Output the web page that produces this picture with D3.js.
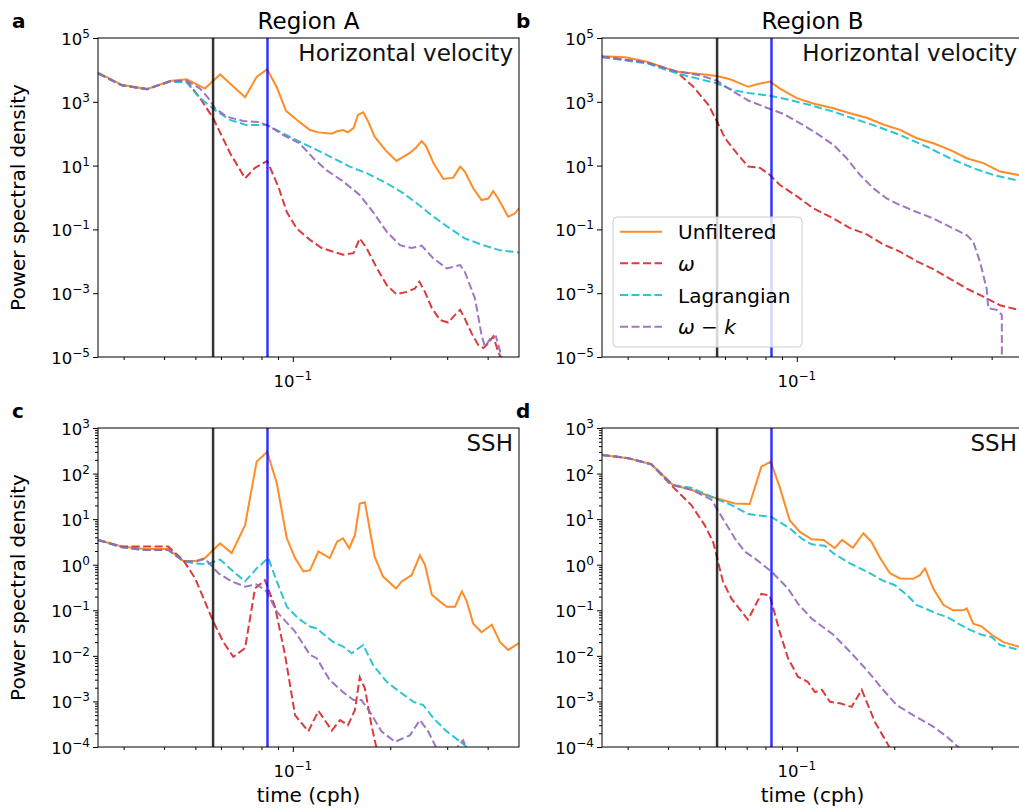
<!DOCTYPE html>
<html>
<head>
<meta charset="utf-8">
<script src="https://cdn.jsdelivr.net/npm/d3@7"></script>
<style>
body { margin: 0; background: #fff; }
svg { font-family: "DejaVu Sans", sans-serif; }
</style>
</head>
<body>
<svg id="fig" width="1019" height="810"></svg>
<script>
// frequency axis (cph) and marker lines
var freqDomain = [0.025, 0.5];
var inertialFreq = 0.0567;
var tideFreq = 0.0835;
var xMinorTicks = [0.03, 0.04, 0.05, 0.06, 0.07, 0.08, 0.09, 0.2, 0.3, 0.4];

// tick exponents
var velocityTicks = [5, 3, 1, -1, -3, -5];
var sshTicks = [3, 2, 1, 0, -1, -2, -3, -4];

var seriesNames = ["Unfiltered", "\u03c9", "Lagrangian", "\u03c9\u2212k"];

// Region A, horizontal velocity  [freq, psd]
var aUnfiltered = [[0.025,8.2e3],[0.0296,3.4e3],[0.0354,2.5e3],[0.0417,4.5e3],[0.047,5.1e3],[0.0535,2.6e3],[0.0596,7.2e3],[0.0712,1.4e3],[0.0773,6.0e3],[0.0833,1.05e4],[0.0893,2.8e3],[0.0953,520],[0.105,230],[0.113,130],[0.12,110],[0.132,100],[0.137,120],[0.143,130],[0.148,110],[0.154,150],[0.159,390],[0.165,470],[0.171,240],[0.179,81],[0.193,31],[0.209,14],[0.22,19],[0.23,25],[0.24,36],[0.25,59],[0.258,41],[0.272,12],[0.292,3.8],[0.313,4.2],[0.329,9.3],[0.34,6.5],[0.361,1.95],[0.383,0.83],[0.402,0.93],[0.416,1.6],[0.431,0.93],[0.463,0.25],[0.486,0.32],[0.5,0.46]];
var aOmega = [[0.025,7.8e3],[0.0296,3.3e3],[0.0354,2.5e3],[0.0417,4.3e3],[0.047,4.4e3],[0.0517,1.3e3],[0.0568,300],[0.064,24.5],[0.0712,4.0],[0.0764,8.5],[0.0833,14],[0.0902,2.2],[0.0958,0.35],[0.1028,0.107],[0.113,0.047],[0.1228,0.026],[0.1334,0.020],[0.143,0.016],[0.154,0.018],[0.161,0.052],[0.169,0.026],[0.182,6.0e-3],[0.195,1.8e-3],[0.209,9.3e-4],[0.225,1.1e-3],[0.2385,1.4e-3],[0.246,2.3e-3],[0.256,1.1e-3],[0.269,3.4e-4],[0.285,1.45e-4],[0.302,1.2e-4],[0.317,2.1e-4],[0.329,3.0e-4],[0.34,1.6e-4],[0.357,5.5e-5],[0.374,2.4e-5],[0.388,1.9e-5],[0.402,2.7e-5],[0.416,4.4e-5],[0.431,1.5e-5],[0.449,5.6e-6]];
var aLagrangian = [[0.025,7.8e3],[0.0296,3.3e3],[0.0354,2.5e3],[0.0417,4.3e3],[0.047,4.0e3],[0.0517,1.3e3],[0.0575,550],[0.064,270],[0.072,186],[0.0833,186],[0.0934,102],[0.105,56],[0.1185,31],[0.1334,17],[0.15,9.3],[0.169,5.8],[0.195,2.8],[0.22,1.35],[0.2415,0.66],[0.272,0.25],[0.306,0.107],[0.34,0.052],[0.388,0.032],[0.437,0.022],[0.5,0.019]];
var aOmegaK = [[0.025,7.8e3],[0.0296,3.3e3],[0.0354,2.5e3],[0.0417,4.4e3],[0.047,4.6e3],[0.0517,2.6e3],[0.0548,1.3e3],[0.0575,630],[0.0625,340],[0.0703,250],[0.0792,230],[0.085,166],[0.0934,91],[0.105,50],[0.1157,17],[0.127,7.2],[0.143,3.2],[0.161,1.2],[0.177,0.35],[0.195,0.085],[0.2145,0.032],[0.233,0.026],[0.25,0.031],[0.272,0.0123],[0.299,6.0e-3],[0.329,7.6e-3],[0.34,4.7e-3],[0.3655,6.9e-4],[0.383,4.9e-5],[0.3925,2.1e-5],[0.412,4.4e-5],[0.4245,4.4e-5],[0.437,1.5e-5],[0.449,5.6e-6]];

// Region B, horizontal velocity
var bUnfiltered = [[0.025,2.7e4],[0.0295,2.5e4],[0.0344,1.8e4],[0.0426,8.7e3],[0.0502,7.4e3],[0.0566,6.4e3],[0.0622,5.1e3],[0.0708,2.95e3],[0.076,3.6e3],[0.0826,4.3e3],[0.0887,2.6e3],[0.0999,1.3e3],[0.1124,890],[0.1297,630],[0.146,440],[0.1644,316],[0.185,195],[0.2084,132],[0.2347,72],[0.264,50],[0.2975,31],[0.335,17],[0.377,12],[0.4245,6.5],[0.4835,5.1],[0.5,4.5]];
var bOmega = [[0.025,2.6e4],[0.0344,1.7e4],[0.0426,8.5e3],[0.0479,2.95e3],[0.0533,800],[0.0566,250],[0.06,72],[0.0652,24.5],[0.0708,9.3],[0.077,8.5],[0.0826,5.1],[0.0887,2.45],[0.0999,1.1],[0.1124,0.46],[0.1297,0.22],[0.146,0.11],[0.1644,0.07],[0.185,0.034],[0.2084,0.020],[0.2347,0.010],[0.264,5.7e-3],[0.2975,2.8e-3],[0.335,1.4e-3],[0.377,7.8e-4],[0.4245,4.2e-4],[0.4835,3.0e-4],[0.5,2.8e-4]];
var bLagrangian = [[0.025,2.5e4],[0.0344,1.6e4],[0.0426,7.8e3],[0.0502,5.1e3],[0.0566,3.8e3],[0.0636,2.3e3],[0.0708,1.9e3],[0.0826,1.55e3],[0.093,1.2e3],[0.1098,790],[0.1297,490],[0.1494,300],[0.1723,186],[0.2084,91],[0.252,39],[0.2975,17],[0.351,8.3],[0.405,5.1],[0.4835,3.4],[0.5,3.2]];
var bOmegaK = [[0.025,2.6e4],[0.0344,1.7e4],[0.0426,9.0e3],[0.0502,6.8e3],[0.0566,4.6e3],[0.0636,2.1e3],[0.0708,1.1e3],[0.0807,650],[0.0908,420],[0.1047,186],[0.1152,102],[0.1297,45],[0.1426,17],[0.1568,5.1],[0.1723,1.95],[0.1895,0.93],[0.2084,0.58],[0.2347,0.35],[0.264,0.22],[0.2975,0.12],[0.335,0.066],[0.351,0.041],[0.368,9.8e-3],[0.386,1.4e-3],[0.3905,3.4e-4],[0.415,3.0e-4],[0.43,2.1e-4],[0.4305,1e-6]];

// Region A, SSH
var cUnfiltered = [[0.025,3.5],[0.0296,2.5],[0.0349,2.2],[0.0412,2.2],[0.0459,1.2],[0.0499,1.2],[0.0535,1.4],[0.0596,2.95],[0.0647,1.8],[0.0712,7.4],[0.0773,182],[0.0833,300],[0.0892,62],[0.0958,3.8],[0.1016,1.4],[0.1078,0.71],[0.113,0.76],[0.12,1.95],[0.13,1.4],[0.137,3.2],[0.143,3.8],[0.1494,2.3],[0.1556,4.5],[0.161,22],[0.167,23.5],[0.179,1.5],[0.19,0.55],[0.2084,0.30],[0.217,0.43],[0.233,0.59],[0.247,1.6],[0.256,1.0],[0.269,0.22],[0.285,0.155],[0.299,0.12],[0.317,0.12],[0.333,0.26],[0.345,0.155],[0.361,0.051],[0.383,0.033],[0.412,0.048],[0.437,0.020],[0.463,0.0135],[0.5,0.019]];
var cOmega = [[0.025,3.5],[0.0296,2.5],[0.0349,2.5],[0.0412,2.5],[0.0459,1.25],[0.0499,0.50],[0.0535,0.155],[0.0568,0.056],[0.061,0.020],[0.0655,9.5e-3],[0.0712,0.0148],[0.0764,0.30],[0.082,0.46],[0.0881,0.12],[0.0946,0.0105],[0.1016,5.0e-4],[0.1116,2.2e-4],[0.12,6.2e-4],[0.132,2.3e-4],[0.14,3.9e-4],[0.148,3.0e-4],[0.1556,6.5e-4],[0.161,3.4e-3],[0.167,1.95e-3],[0.175,3.0e-4],[0.182,8.5e-5],[0.19,4e-5]];
var cLagrangian = [[0.025,3.5],[0.0296,2.4],[0.0349,2.1],[0.0412,2.1],[0.0459,1.2],[0.0499,1.07],[0.0542,1.02],[0.0596,1.3],[0.0655,0.71],[0.0712,0.43],[0.0773,0.83],[0.084,1.4],[0.0892,0.43],[0.0958,0.12],[0.104,0.066],[0.113,0.044],[0.1185,0.040],[0.1334,0.020],[0.143,0.016],[0.152,0.0114],[0.165,0.0174],[0.177,6.3e-3],[0.195,2.7e-3],[0.2145,1.6e-3],[0.236,9.8e-4],[0.253,8.3e-4],[0.272,4.3e-4],[0.299,2.2e-4],[0.325,1.4e-4],[0.34,1.1e-4],[0.352,8e-5]];
var cOmegaK = [[0.025,3.5],[0.0296,2.4],[0.0349,2.1],[0.0412,2.1],[0.0459,1.2],[0.0499,1.17],[0.0535,1.35],[0.0589,0.65],[0.0647,0.43],[0.0712,0.33],[0.0773,0.37],[0.083,0.26],[0.0892,0.093],[0.1016,0.034],[0.113,0.0105],[0.1185,8.9e-3],[0.13,2.95e-3],[0.143,1.6e-3],[0.154,1.07e-3],[0.163,1.07e-3],[0.173,5.9e-4],[0.188,2.2e-4],[0.207,1.3e-4],[0.23,1.8e-4],[0.247,3.9e-4],[0.262,2.2e-4],[0.275,1.1e-4],[0.285,6e-5],[0.317,7e-5],[0.325,1.1e-4],[0.336,1.4e-4],[0.345,9e-5],[0.36,5e-5]];

// Region B, SSH
var dUnfiltered = [[0.025,257],[0.0301,218],[0.0355,160],[0.0414,56],[0.0472,44],[0.0544,31],[0.0643,22],[0.0715,21.5],[0.0777,142],[0.083,182],[0.0885,51],[0.095,9.5],[0.102,5.3],[0.111,3.6],[0.121,3.5],[0.131,2.3],[0.138,3.5],[0.149,2.35],[0.1605,4.9],[0.17,3.2],[0.181,1.38],[0.194,0.65],[0.2084,0.50],[0.229,0.49],[0.24,0.59],[0.249,0.83],[0.264,0.30],[0.284,0.13],[0.304,0.10],[0.327,0.10],[0.335,0.11],[0.351,0.051],[0.373,0.044],[0.4,0.029],[0.435,0.020],[0.4835,0.016],[0.5,0.015]];
var dOmega = [[0.025,257],[0.0301,218],[0.0355,160],[0.0414,51],[0.0472,20.4],[0.0519,7.4],[0.0551,3.2],[0.0591,0.43],[0.0628,0.18],[0.0706,0.062],[0.0777,0.23],[0.0825,0.21],[0.0885,0.034],[0.0939,8.9e-3],[0.1008,3.5e-3],[0.108,2.7e-3],[0.1138,1.6e-3],[0.1195,1.8e-3],[0.1266,9.8e-4],[0.136,9.1e-4],[0.1477,7.6e-4],[0.1587,1.8e-3],[0.1744,3.5e-4],[0.1917,1.1e-4],[0.2,6e-5]];
var dLagrangian = [[0.025,257],[0.0301,218],[0.0355,160],[0.0414,56],[0.0472,49],[0.0544,31],[0.0628,20.4],[0.0706,12.9],[0.0834,11.2],[0.095,6.3],[0.1032,3.8],[0.111,2.8],[0.122,2.6],[0.1297,1.78],[0.146,1.07],[0.1644,0.71],[0.183,0.46],[0.201,0.355],[0.2185,0.22],[0.2347,0.13],[0.249,0.11],[0.2705,0.085],[0.2905,0.072],[0.3155,0.051],[0.343,0.037],[0.373,0.029],[0.4,0.026],[0.4245,0.0174],[0.478,0.014],[0.5,0.013]];
var dOmegaK = [[0.025,257],[0.0301,218],[0.0355,160],[0.0414,56],[0.0472,44],[0.0544,27],[0.0643,3.8],[0.069,1.95],[0.0741,1.38],[0.0834,0.71],[0.0939,0.30],[0.1008,0.14],[0.111,0.066],[0.1297,0.029],[0.146,0.0123],[0.1644,4.9e-3],[0.183,1.95e-3],[0.2035,8.3e-4],[0.229,5.0e-4],[0.264,2.8e-4],[0.2905,1.7e-4],[0.3155,1.0e-4],[0.34,6e-5]];

var svg = d3.select("#fig");
var panelW = 421, panelH = 319;

var styles = [
    { color: "#ff7f0e", dash: null },
    { color: "#d62728", dash: "8,3.5" },
    { color: "#17becf", dash: "8,3.5" },
    { color: "#9467bd", dash: "8,3.5" }
];

var panels = [
    { letter: "a", left: 98,  top: 38,  series: [aUnfiltered, aOmega, aLagrangian, aOmegaK], yDom: [1e-5, 1e5], ticks: velocityTicks, minor: false, title: "Region A", field: "Horizontal velocity", ylab: true,  xlab: false },
    { letter: "b", left: 602, top: 38,  series: [bUnfiltered, bOmega, bLagrangian, bOmegaK], yDom: [1e-5, 1e5], ticks: velocityTicks, minor: false, title: "Region B", field: "Horizontal velocity", ylab: false, xlab: false },
    { letter: "c", left: 98,  top: 428, series: [cUnfiltered, cOmega, cLagrangian, cOmegaK], yDom: [1e-4, 1e3], ticks: sshTicks,      minor: true,  title: null,       field: "SSH",                 ylab: true,  xlab: true },
    { letter: "d", left: 602, top: 428, series: [dUnfiltered, dOmega, dLagrangian, dOmegaK], yDom: [1e-4, 1e3], ticks: sshTicks,      minor: true,  title: null,       field: "SSH",                 ylab: false, xlab: true }
];

// "10" with superscript exponent
function powerLabel(sel, e) {
    sel.append("tspan").text("10");
    sel.append("tspan")
        .attr("dy", -7)
        .attr("font-size", 12)
        .text(e < 0 ? "\u2212" + (-e) : String(e));
}

panels.forEach(function (p, pi) {
    var bottom = p.top + panelH;
    var x = d3.scaleLog().domain(freqDomain).range([p.left, p.left + panelW]);
    var y = d3.scaleLog().domain(p.yDom).range([bottom, p.top]);
    var g = svg.append("g");

    g.append("clipPath").attr("id", "clip" + pi)
        .append("rect")
        .attr("x", p.left).attr("y", p.top)
        .attr("width", panelW).attr("height", panelH);

    var line = d3.line()
        .x(function (d) { return x(d[0]); })
        .y(function (d) { return y(d[1]); });

    var plot = g.append("g").attr("clip-path", "url(#clip" + pi + ")");

    p.series.forEach(function (s, i) {
        plot.append("path")
            .datum(s)
            .attr("d", line)
            .attr("fill", "none")
            .attr("stroke", styles[i].color)
            .attr("stroke-opacity", 0.9)
            .attr("stroke-width", 2)
            .attr("stroke-dasharray", styles[i].dash);
    });

    plot.append("line")
        .attr("x1", x(inertialFreq)).attr("x2", x(inertialFreq))
        .attr("y1", p.top).attr("y2", bottom)
        .attr("stroke", "#000").attr("stroke-opacity", 0.8).attr("stroke-width", 2.5);
    plot.append("line")
        .attr("x1", x(tideFreq)).attr("x2", x(tideFreq))
        .attr("y1", p.top).attr("y2", bottom)
        .attr("stroke", "#0000ff").attr("stroke-opacity", 0.8).attr("stroke-width", 2.5);

    // y axis ticks
    var majorVals = p.ticks.map(function (e) { return Math.pow(10, e); });
    g.append("g")
        .attr("transform", "translate(" + p.left + ",0)")
        .call(d3.axisLeft(y).tickValues(majorVals).tickSize(5).tickFormat(""))
        .call(function (a) { a.select(".domain").remove(); });

    if (p.minor) {
        var minorVals = [];
        for (var e = -4; e < 3; e++) {
            for (var m = 2; m < 10; m++) minorVals.push(m * Math.pow(10, e));
        }
        g.append("g")
            .attr("transform", "translate(" + p.left + ",0)")
            .call(d3.axisLeft(y).tickValues(minorVals).tickSize(3).tickFormat(""))
            .call(function (a) { a.select(".domain").remove(); });
    }

    p.ticks.forEach(function (e) {
        g.append("text")
            .attr("x", p.left - 8)
            .attr("y", y(Math.pow(10, e)) + 7)
            .attr("text-anchor", "end")
            .attr("font-size", 16.5)
            .call(powerLabel, e);
    });

    // x axis ticks
    g.append("g")
        .attr("transform", "translate(0," + bottom + ")")
        .call(d3.axisBottom(x).tickValues([0.1]).tickSize(5).tickFormat(""))
        .call(function (a) { a.select(".domain").remove(); });
    g.append("g")
        .attr("transform", "translate(0," + bottom + ")")
        .call(d3.axisBottom(x).tickValues(xMinorTicks).tickSize(3).tickFormat(""))
        .call(function (a) { a.select(".domain").remove(); });

    g.append("text")
        .attr("x", x(0.1))
        .attr("y", bottom + 30)
        .attr("text-anchor", "middle")
        .attr("font-size", 16.5)
        .call(powerLabel, -1);

    // frame
    g.append("rect")
        .attr("x", p.left).attr("y", p.top)
        .attr("width", panelW).attr("height", panelH)
        .attr("fill", "none").attr("stroke", "#000").attr("stroke-width", 1);

    // texts
    g.append("text")
        .attr("x", p.left - 86).attr("y", p.top - 10)
        .attr("font-size", 20).attr("font-weight", "bold")
        .text(p.letter);

    if (p.title) {
        g.append("text")
            .attr("x", p.left + panelW / 2).attr("y", p.top - 9)
            .attr("text-anchor", "middle").attr("font-size", 23)
            .text(p.title);
    }

    g.append("text")
        .attr("x", p.left + panelW - 6).attr("y", p.top + 23)
        .attr("text-anchor", "end").attr("font-size", 23)
        .attr("fill", "#111")
        .text(p.field);

    if (p.ylab) {
        g.append("text")
            .attr("transform", "translate(25," + (p.top + panelH / 2) + ") rotate(-90)")
            .attr("text-anchor", "middle").attr("font-size", 20)
            .text("Power spectral density");
    }
    if (p.xlab) {
        g.append("text")
            .attr("x", p.left + panelW / 2).attr("y", 802)
            .attr("text-anchor", "middle").attr("font-size", 20)
            .text("time (cph)");
    }
});

// legend, panel b
var leg = svg.append("g").attr("transform", "translate(613,217)");
leg.append("rect")
    .attr("width", 189).attr("height", 130).attr("rx", 4)
    .attr("fill", "#fff").attr("fill-opacity", 0.8)
    .attr("stroke", "#ccc");

var rowY = [14.7, 46.3, 78, 109.7];
seriesNames.forEach(function (name, i) {
    leg.append("line")
        .attr("x1", 7).attr("x2", 49)
        .attr("y1", rowY[i]).attr("y2", rowY[i])
        .attr("stroke", styles[i].color).attr("stroke-opacity", 0.9)
        .attr("stroke-width", 2)
        .attr("stroke-dasharray", styles[i].dash);
    var t = leg.append("text")
        .attr("x", 65).attr("y", rowY[i] + 7.5)
        .attr("font-size", 20);
    if (i === 0 || i === 2) {
        t.text(name);
    } else if (i === 1) {
        t.append("tspan").attr("font-style", "italic").text("\u03c9");
    } else {
        t.append("tspan").attr("font-style", "italic").text("\u03c9");
        t.append("tspan").text(" \u2212 ");
        t.append("tspan").attr("font-style", "italic").text("k");
    }
});
</script>
</body>
</html>
